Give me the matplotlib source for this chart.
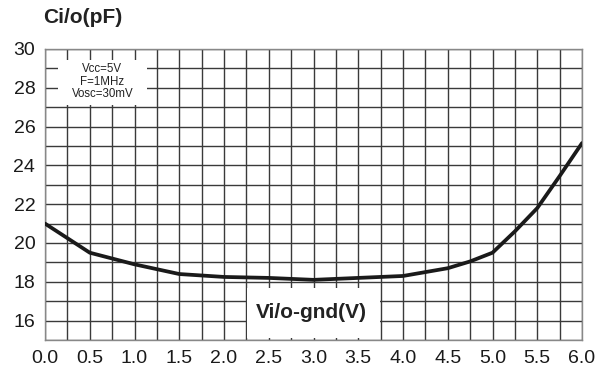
import matplotlib.pyplot as plt
from matplotlib.ticker import MultipleLocator
from matplotlib.patches import Rectangle

# Capacitance vs I/O voltage
v_io = [0.0, 0.5, 1.0, 1.5, 2.0, 2.5, 3.0, 3.5, 4.0, 4.5, 4.75, 5.0, 5.25, 5.5, 5.75, 6.0]
c_io = [21.0, 19.5, 18.9, 18.4, 18.25, 18.2, 18.1, 18.2, 18.3, 18.7, 19.05, 19.5, 20.6, 21.8, 23.45, 25.15]

x_ticks = [0.0, 0.5, 1.0, 1.5, 2.0, 2.5, 3.0, 3.5, 4.0, 4.5, 5.0, 5.5, 6.0]
y_ticks = [16, 18, 20, 22, 24, 26, 28, 30]

plt.rcParams['font.family'] = ['Liberation Sans', 'DejaVu Sans']

fig = plt.figure(figsize=(6.09, 3.67), dpi=100)
ax = fig.add_axes([0.0739, 0.0736, 0.8818, 0.7929])

ax.plot(v_io, c_io, color='#1a1a1a', lw=2.7, solid_capstyle='round', zorder=3)

ax.set_xlim(0, 6)
ax.set_ylim(15, 30)
ax.set_xticks(x_ticks)
ax.set_xticklabels([f"{t:.1f}" for t in x_ticks])
ax.set_yticks(y_ticks)
ax.xaxis.set_minor_locator(MultipleLocator(0.25))
ax.yaxis.set_minor_locator(MultipleLocator(1))
ax.tick_params(which='both', length=0, labelsize=14, colors='#1a1a1a')
ax.tick_params(axis='x', pad=7)
ax.tick_params(axis='y', pad=7)
ax.grid(True, which='both', color='#3a3a3a', lw=1.0, zorder=1)
ax.set_axisbelow(True)
for s in ax.spines.values():
    s.set_color('#888888')
    s.set_linewidth(1.0)

# white patches behind the in-plot labels
ax.add_patch(Rectangle((2.26, 15.08), 1.48, 2.62, facecolor='white', edgecolor='none', zorder=2))
ax.add_patch(Rectangle((0.145, 27.12), 1.0, 2.31, facecolor='white', edgecolor='none', zorder=2))

ax.text(2.98, 16.4, "Vi/o-gnd(V)", fontsize=15, fontweight='bold', ha='center',
        va='center', color='#222222', zorder=4)

ax.text(0.64, 28.32, "Vcc=5V\nF=1MHz\nVosc=30mV", fontsize=8.3, ha='center', va='center',
        linespacing=1.05, color='#222222', zorder=4)

fig.text(0.0706, 0.951, "Ci/o(pF)", fontsize=15, fontweight='bold', ha='left',
         va='center', color='#222222')

fig.savefig("out.png", dpi=100)
